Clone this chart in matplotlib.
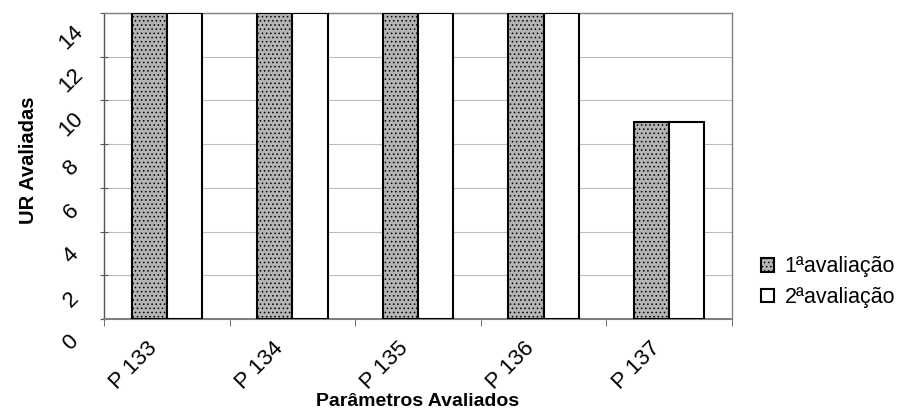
import matplotlib.pyplot as plt
import matplotlib.transforms as mtransforms
import numpy as np

plt.rcParams['font.family'] = ['Liberation Sans', 'DejaVu Sans']
plt.rcParams['hatch.color'] = '#8c8c8c'
plt.rcParams['hatch.linewidth'] = 0.6

categorias = ['P 133', 'P 134', 'P 135', 'P 136', 'P 137']
aval1 = [14, 14, 14, 14, 9]
aval2 = [14, 14, 14, 14, 9]
series = ['1ªavaliação', '2ªavaliação']
yticks = [0, 2, 4, 6, 8, 10, 12, 14]

fig = plt.figure(figsize=(9.06, 4.17), dpi=100)
ax = fig.add_axes([0.1148, 0.235, 0.6932, 0.734])

x = np.arange(len(categorias))
w = 0.28
ax.bar(x - w / 2, aval1, w, facecolor='#b4b4b4', hatch='....',
       edgecolor='black', linewidth=1.5, label=series[0], zorder=3)
ax.bar(x + w / 2, aval2, w, facecolor='white',
       edgecolor='black', linewidth=1.5, label=series[1], zorder=3)

ax.set_xlim(-0.5, len(categorias) - 0.5)
ax.set_ylim(0, 14)

# y tick labels: rotated and shifted down like the original
ax.set_yticks(yticks)
ax.set_yticklabels([])
ax.tick_params(axis='y', length=6, direction='inout', color='#555555')
off_y = mtransforms.ScaledTranslation(-0.33, -0.24, fig.dpi_scale_trans)
for v in yticks:
    ax.text(0, v, str(v), rotation=45, fontsize=16, ha='center', va='center',
            transform=ax.get_yaxis_transform() + off_y, clip_on=False)

# x tick labels
ax.set_xticks(x)
ax.set_xticklabels([])
ax.tick_params(axis='x', length=0)
ax.set_xticks(np.arange(-0.5, len(categorias), 1), minor=True)
ax.tick_params(axis='x', which='minor', length=5, color='#555555')
off_x = mtransforms.ScaledTranslation(-0.33, -0.47, fig.dpi_scale_trans)
for xi, cat in zip(x, categorias):
    ax.text(xi, 0, cat, rotation=45, fontsize=16, ha='center', va='center',
            transform=ax.get_xaxis_transform() + off_x, clip_on=False)

ax.yaxis.grid(True, color='#bdbdbd', linewidth=0.8, zorder=0)
for s in ax.spines.values():
    s.set_color('#808080')
    s.set_linewidth(1.0)
ax.spines['bottom'].set_linewidth(1.5)
ax.spines['left'].set_color('#555555')

ax.set_ylabel('UR Avaliadas', fontsize=14.5, fontweight='bold', va='center')
ax.yaxis.set_label_coords(-0.12, 0.52)
ax.set_xlabel('Parâmetros Avaliados', fontsize=14, fontweight='bold',
              va='center')
ax.xaxis.set_label_coords(0.5, -0.27)

ax.legend(loc='center left', bbox_to_anchor=(1.046, 0.12), frameon=False,
          fontsize=15.5, handlelength=0.6, handleheight=0.6,
          handletextpad=0.5, labelspacing=0.45, borderpad=0,
          borderaxespad=0)

fig.savefig('out.png', dpi=100)
